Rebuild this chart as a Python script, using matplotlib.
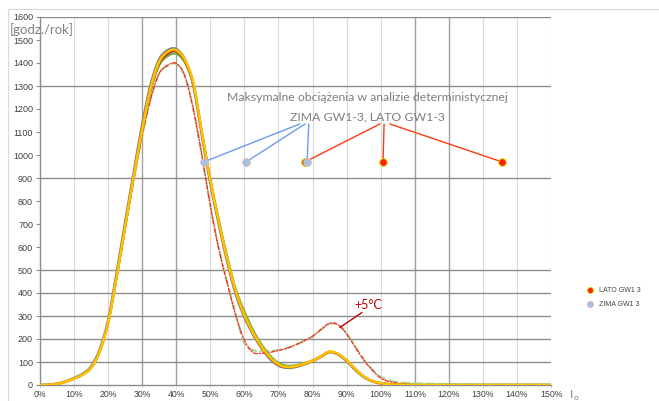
import matplotlib
matplotlib.use("Agg")
import matplotlib.pyplot as plt
from matplotlib.patches import Rectangle, PathPatch
from matplotlib.path import Path

# ---------------- data ----------------
x_pct = [0, 2.5, 5, 7.5, 10, 12.5, 15, 17.5, 20, 22.5,
         25, 27.5, 30, 32.5, 35, 37.5, 40, 42.5, 45, 47.5,
         50, 52.5, 55, 57.5, 60, 62.5, 65, 67.5, 70, 72.5,
         75, 77.5, 80, 82.5, 85, 87.5, 90, 92.5, 95, 97.5,
         100, 102.5, 105, 107.5, 110, 120, 130, 140, 150]

gray_line = [0, 1, 6, 15, 30, 48, 80, 152, 280, 485,
             705, 920, 1130, 1305, 1415, 1455, 1460, 1415, 1305, 1090,
             880, 700, 535, 395, 297, 222, 162, 114, 85, 75,
             79, 90, 104, 124, 143, 133, 105, 67, 36, 17,
             7, 3, 1, 0, 0, 0, 0, 0, 0]

green_line = [0, 1, 5, 14, 28, 45, 75, 145, 270, 468,
              688, 902, 1103, 1278, 1390, 1430, 1440, 1402, 1305, 1100,
              895, 718, 555, 415, 320, 240, 177, 128, 96, 84,
              86, 95, 107, 126, 144, 133, 106, 68, 36, 17,
              8, 4, 2, 1, 0, 0, 0, 0, 0]

darkred_line = [0, 1, 5, 14, 28, 45, 75, 145, 270, 470,
                690, 905, 1108, 1285, 1398, 1440, 1450, 1410, 1310, 1098,
                888, 708, 543, 403, 303, 226, 166, 118, 88, 77,
                81, 91, 104, 124, 144, 134, 107, 69, 37, 17,
                8, 4, 2, 1, 0, 0, 0, 0, 0]

orange_line = [0, 1, 5, 14, 28, 45, 75, 145, 270, 470,
               690, 905, 1110, 1290, 1405, 1448, 1455, 1415, 1315, 1100,
               890, 710, 545, 405, 305, 228, 168, 120, 90, 78,
               82, 92, 105, 125, 145, 135, 108, 70, 38, 18,
               8, 4, 2, 1, 0, 0, 0, 0, 0]

green_dash = [0, 1, 5, 14, 28, 45, 75, 145, 272, 470,
              680, 890, 1083, 1243, 1353, 1388, 1396, 1342, 1198, 998,
              778, 592, 445, 305, 180, 152, 148, 148, 152, 160,
              174, 191, 210, 240, 266, 262, 225, 168, 112, 68,
              35, 20, 12, 9, 7, 4, 2, 0, 0]

red_dash = [0, 1, 5, 14, 28, 45, 75, 145, 272, 470,
            680, 890, 1085, 1245, 1355, 1390, 1398, 1345, 1200, 1000,
            780, 590, 440, 300, 195, 142, 138, 142, 150, 160,
            175, 192, 212, 242, 268, 262, 222, 165, 110, 65,
            30, 15, 8, 4, 2, 0, 0, 0, 0]

zima_x = [48.1, 60.5, 78.4]
zima_y = [970, 970, 970]
lato_x = [77.8, 100.7, 135.6]
lato_y = [970, 970, 970]

y_ticks = list(range(0, 1700, 100))
x_ticks = list(range(0, 160, 10))
x_tick_labels = [f"{v}%" for v in x_ticks]
h_grid = [100, 200, 300, 400, 500, 900, 1300, 1600]
v_grid_dark = [30, 40, 110, 120]


def smooth_path(xs, ys):
    """Excel-like smoothed line (Bezier through the data points)."""
    n = len(xs)
    verts = [(xs[0], ys[0])]
    codes = [Path.MOVETO]
    for i in range(n - 1):
        a = i - 1 if i > 0 else i
        d = i + 2 if i + 2 < n else i + 1
        c1 = (xs[i] + (xs[i + 1] - xs[a]) / 6, ys[i] + (ys[i + 1] - ys[a]) / 6)
        c2 = (xs[i + 1] - (xs[d] - xs[i]) / 6, ys[i + 1] - (ys[d] - ys[i]) / 6)
        verts += [c1, c2, (xs[i + 1], ys[i + 1])]
        codes += [Path.CURVE4] * 3
    return Path(verts, codes)


def draw_curve(ax, xs, ys, **kw):
    patch = PathPatch(smooth_path(xs, ys), fill=False, transform=ax.transData,
                      capstyle="round", joinstyle="round", **kw)
    ax.add_patch(patch)


# ---------------- figure ----------------
W, H = 659, 401
fig = plt.figure(figsize=(W / 100, H / 100), dpi=100)
ax = fig.add_axes([40 / W, 1 - 385 / H, (551 - 40) / W, (385 - 17) / H])

fig.patches.append(Rectangle((8 / W, -0.01), 1.0, (401 - 9) / H + 0.01,
                             transform=fig.transFigure, fill=False,
                             edgecolor="#d9d9d9", lw=0.8))

ax.set_xlim(0, 150)
ax.set_ylim(0, 1600)

for v in x_ticks:
    dark = v in v_grid_dark
    ax.axvline(v, color="#a0a0a0" if dark else "#d9d9d9",
               lw=1.0 if dark else 0.8, zorder=0)
for v in h_grid:
    ax.axhline(v, color="#8c8c8c", lw=1.0, zorder=0)

for s in ["top", "right"]:
    ax.spines[s].set_visible(False)
for s in ["left", "bottom"]:
    ax.spines[s].set_color("#8c8c8c")
    ax.spines[s].set_linewidth(1.0)

ax.set_yticks(y_ticks)
ax.set_yticklabels([str(v) for v in y_ticks])
ax.set_xticks(x_ticks)
ax.set_xticklabels(x_tick_labels)
ax.tick_params(axis="y", length=3, color="#8c8c8c", pad=2, labelsize=6.5,
               labelcolor="#404040")
ax.tick_params(axis="x", length=2, color="#d9d9d9", pad=1.5, labelsize=6.3,
               labelcolor="#404040")
for lab in ax.get_xticklabels() + ax.get_yticklabels():
    lab.set_fontfamily("Liberation Sans")

# curves (smoothed, like the source chart)
draw_curve(ax, x_pct, gray_line, edgecolor="#7f7f7f", lw=2.0, zorder=3)
draw_curve(ax, x_pct, green_dash, edgecolor="#A9D18E", lw=1.5,
           linestyle=(0, (4, 2)), zorder=3.2)
draw_curve(ax, x_pct, red_dash, edgecolor="#FF2020", lw=0.9,
           linestyle=(0, (3, 1.5, 1, 1.5)), zorder=3.5)
draw_curve(ax, x_pct, green_line, edgecolor="#70AD47", lw=1.6, zorder=4)
draw_curve(ax, x_pct, darkred_line, edgecolor="#C00000", lw=1.4, zorder=5)
draw_curve(ax, x_pct, orange_line, edgecolor="#FFC000", lw=1.9, zorder=6)

# annotation callouts
blue_origins = [(76.3, 1135), (77.8, 1135), (78.9, 1135)]
red_origins = [(99.8, 1135), (101.0, 1135), (102.7, 1135)]
for (ox, oy), px, py in zip(blue_origins, zima_x, zima_y):
    ax.annotate("", xy=(px, py), xytext=(ox, oy),
                arrowprops=dict(arrowstyle="-", color="#6A9BF0", lw=1.0,
                                shrinkA=0, shrinkB=0), zorder=7)
for (ox, oy), px, py in zip(red_origins, lato_x, lato_y):
    ax.annotate("", xy=(px, py), xytext=(ox, oy),
                arrowprops=dict(arrowstyle="-", color="#FF3A10", lw=1.0,
                                shrinkA=0, shrinkB=0), zorder=7)

ax.scatter(lato_x, lato_y, s=30, color="#FF2000", edgecolors="#D0E000",
           linewidths=0.7, zorder=8, label="LATO GW1 3")
ax.scatter(zima_x, zima_y, s=30, color="#9DC3E6", edgecolors="#E8B4B4",
           linewidths=0.7, zorder=9, label="ZIMA GW1 3")

ax.text(96, 1252, "Maksymalne obciążenia w analizie deterministycznej",
        ha="center", va="center", fontsize=8.8, color="#7f7f7f",
        fontfamily="Lato", zorder=10)
ax.text(96, 1165, "ZIMA GW1-3, LATO GW1-3",
        ha="center", va="center", fontsize=8.8, color="#7f7f7f",
        fontfamily="Lato", zorder=10)

# +5°C annotation
ax.annotate("", xy=(88, 250), xytext=(94.5, 315),
            arrowprops=dict(arrowstyle="-", color="#C00000", lw=1.0,
                            shrinkA=0, shrinkB=0), zorder=10)
ax.text(96.3, 348, "+5°C", ha="center", va="center", fontsize=9,
        color="#C00000", fontfamily="Lato", zorder=10)

# axis unit labels
fig.text(10 / W, 1 - 30 / H, "[godz./rok]", ha="left", va="center",
         fontsize=9.5, color="#808080", fontfamily="Lato")
fig.text(570 / W, 1 - 395 / H, "I", ha="left", va="center",
         fontsize=8.5, color="#808080", fontfamily="Lato")
fig.text(574 / W, 1 - 398 / H, "o", ha="left", va="center",
         fontsize=6, color="#808080", fontfamily="Lato")

leg = ax.legend(loc="center left", bbox_to_anchor=(1.065, 0.239),
                frameon=False, handletextpad=0.9, labelspacing=1.0,
                borderpad=0, handlelength=0.8, markerscale=0.8,
                prop={"family": "Liberation Sans", "size": 5})
for t in leg.get_texts():
    t.set_color("#404040")

fig.savefig("out.png", dpi=100)
